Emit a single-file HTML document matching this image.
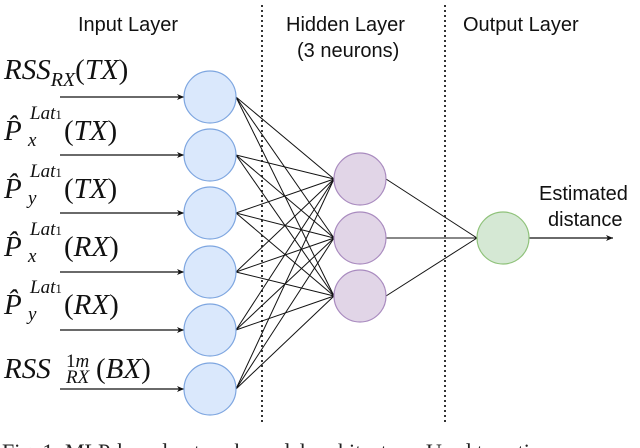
<!DOCTYPE html>
<html><head><meta charset="utf-8"><style>
body{margin:0;background:#fff}
#w{position:relative;width:640px;height:448px;overflow:hidden;font-family:"Liberation Sans",sans-serif}
.t{position:absolute;font-size:20px;color:#111;white-space:nowrap}
.m{position:absolute;font-family:"Liberation Serif",serif;font-style:italic;font-size:29px;color:#111;white-space:nowrap;line-height:1}
.m .n{font-style:normal}
.sup{position:absolute;font-size:19px}
.sub{position:absolute;font-size:19px}
</style></head><body><div id="w">
<svg width="640" height="448" style="position:absolute;left:0;top:0">
<defs><marker id="a" markerWidth="8" markerHeight="8" refX="7" refY="4" orient="auto" markerUnits="userSpaceOnUse"><path d="M0,1 L7,4 L0,7 L2,4z" fill="#111"/></marker></defs>
<g stroke="#333" stroke-width="2" stroke-dasharray="2,3"><line x1="262" y1="5" x2="262" y2="424"/><line x1="445" y1="5" x2="445" y2="424"/></g>
<g stroke="#111" stroke-width="1">
<g id="ln"></g>
</g>
<g stroke="#111" stroke-width="1.2" marker-end="url(#a)">
<line x1="60" y1="97" x2="184" y2="97"/><line x1="60" y1="155" x2="184" y2="155"/><line x1="60" y1="213" x2="184" y2="213"/><line x1="60" y1="272" x2="184" y2="272"/><line x1="60" y1="330" x2="184" y2="330"/><line x1="60" y1="389" x2="184" y2="389"/>
<line x1="529" y1="238" x2="613" y2="238"/>
</g>
<g fill="#dae8fc" stroke="#7ea6e0" stroke-width="1.2">
<ellipse cx="210" cy="97" rx="26" ry="26"/><ellipse cx="210" cy="155" rx="26" ry="26"/><ellipse cx="210" cy="213" rx="26" ry="26"/><ellipse cx="210" cy="272" rx="26" ry="26"/><ellipse cx="210" cy="330" rx="26" ry="26"/><ellipse cx="210" cy="389" rx="26" ry="26"/>
</g>
<g fill="#e1d5e7" stroke="#a98bbf" stroke-width="1.2">
<circle cx="360" cy="179" r="26"/><circle cx="360" cy="238" r="26"/><circle cx="360" cy="296" r="26"/>
</g>
<circle cx="503" cy="238" r="26" fill="#d5e8d4" stroke="#8fc27a" stroke-width="1.2"/>
</svg>
<script>
var g=document.getElementById('ln'),s='',iy=[97,155,213,272,330,389],hy=[179,238,296];
iy.forEach(function(a){hy.forEach(function(b){s+='<line x1="236" y1="'+a+'" x2="334" y2="'+b+'"/>'})});
hy.forEach(function(b){s+='<line x1="386" y1="'+b+'" x2="477" y2="238"/>'});
g.innerHTML=s;
</script>
<div class="t" style="left:78px;top:14px">Input Layer</div>
<div class="t" style="left:286px;top:14px">Hidden Layer</div>
<div class="t" style="left:297px;top:40px">(3 neurons)</div>
<div class="t" style="left:463px;top:14px">Output Layer</div>
<div class="t" style="left:539px;top:183px">Estimated</div>
<div class="t" style="left:548px;top:209px">distance</div>

<div class="m" style="left:4px;top:56px">RSS<span style="font-size:20px;position:relative;top:7px">RX</span><span class="n">(</span>TX<span class="n">)</span></div>

<div class="m" style="left:4px;top:117px">P&#770;<span class="sup" style="left:26px;top:-13px">Lat<span style="font-size:13px" class="n">1</span></span><span class="sub" style="left:24px;top:14px">x</span><span style="position:absolute;left:60px;top:0"><span class="n">(</span>TX<span class="n">)</span></span></div>
<div class="m" style="left:4px;top:175px">P&#770;<span class="sup" style="left:26px;top:-13px">Lat<span style="font-size:13px" class="n">1</span></span><span class="sub" style="left:24px;top:14px">y</span><span style="position:absolute;left:60px;top:0"><span class="n">(</span>TX<span class="n">)</span></span></div>
<div class="m" style="left:4px;top:233px">P&#770;<span class="sup" style="left:26px;top:-13px">Lat<span style="font-size:13px" class="n">1</span></span><span class="sub" style="left:24px;top:14px">x</span><span style="position:absolute;left:60px;top:0"><span class="n">(</span>RX<span class="n">)</span></span></div>
<div class="m" style="left:4px;top:291px">P&#770;<span class="sup" style="left:26px;top:-13px">Lat<span style="font-size:13px" class="n">1</span></span><span class="sub" style="left:24px;top:14px">y</span><span style="position:absolute;left:60px;top:0"><span class="n">(</span>RX<span class="n">)</span></span></div>
<div class="m" style="left:4px;top:355px">RSS<span class="sup" style="left:62px;top:-3px"><span class="n">1</span>m</span><span class="sub" style="left:62px;top:13px">RX</span><span style="position:absolute;left:92px;top:0"><span class="n">(</span>BX<span class="n">)</span></span></div>

<div style="position:absolute;left:2px;top:439px;font-family:'Liberation Serif',serif;font-size:22px;color:#222;white-space:nowrap">Fig. 1: MLP-based network model architecture. Used to estim</div>
</div></body></html>
